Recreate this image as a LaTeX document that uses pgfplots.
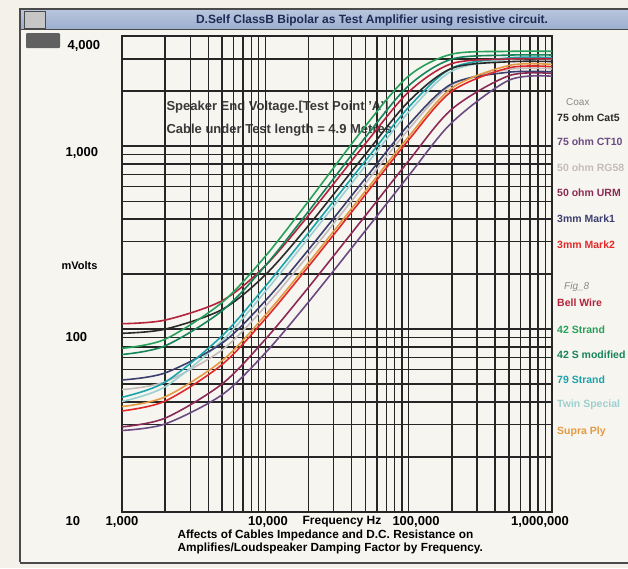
\documentclass[border=0pt]{standalone}
\usepackage{pgfplots}
\pgfplotsset{compat=1.18}
\usepackage{fontspec}
\setmainfont{Liberation Sans}
\setsansfont{Liberation Sans}

\definecolor{paper}{HTML}{F3F1EA}
\definecolor{client}{HTML}{F7F5F0}
\definecolor{tbtop}{HTML}{B9C6DD}
\definecolor{tbbot}{HTML}{9DAECF}
\definecolor{frame}{HTML}{4A4A4A}
\definecolor{gridc}{HTML}{262626}
\definecolor{titlec}{HTML}{1D2B55}
\definecolor{notec}{HTML}{3A3A3A}
% series colours
\definecolor{cCat}{HTML}{2A2A2A}
\definecolor{cCT}{HTML}{6A4A80}
\definecolor{cRG}{HTML}{C4BCBC}
\definecolor{cURM}{HTML}{8C2A55}
\definecolor{cMk1}{HTML}{3C3F6E}
\definecolor{cMk2}{HTML}{E02A2A}
\definecolor{cBell}{HTML}{B3243C}
\definecolor{cS42}{HTML}{27A05A}
\definecolor{cS42m}{HTML}{17855A}
\definecolor{cS79}{HTML}{1AA3AA}
\definecolor{cTwin}{HTML}{9CCFCF}
\definecolor{cSupra}{HTML}{E39A42}
\definecolor{legt}{HTML}{8A8A8A}

\begin{document}
\begin{tikzpicture}
\useasboundingbox (0pt,0pt) rectangle (628pt,-568pt);
\clip (0pt,0pt) rectangle (628pt,-568pt);
\begin{scope}[x=1pt,y=-1pt]
  % window chrome
  \fill[paper] (0,0) rectangle (628,568);
  \fill[client] (20,9) rectangle (640,562);
  \shade[top color=tbtop, bottom color=tbbot] (20,9) rectangle (640,29);
  \draw[frame, line width=1.4pt] (20,562) -- (20,9) -- (640,9);
  \draw[frame, line width=0.8pt] (20,29) -- (640,29);
  \draw[frame, line width=2pt] (20,563) -- (640,563);
  \fill[gray!45] (24,11) rectangle (45,28);
  \draw[frame, line width=0.6pt] (24,11) rectangle (45,28);
  \fill[gray!75!black, rounded corners=1pt] (26,33) rectangle (60,48);
  \node[text=titlec, font=\bfseries\fontsize{12}{12}\selectfont] at (372,20)
    {D.Self ClassB Bipolar as Test Amplifier using resistive circuit.};
  % note behind the grid
  \node[anchor=west, text=notec, font=\bfseries\fontsize{13}{13}\selectfont] at (163,107)
    {Speaker End Voltage.[Test Point 'A']};
  \node[anchor=west, text=notec, font=\bfseries\fontsize{13}{13}\selectfont] at (163,130)
    {Cable under Test length = 4.9 Metres};
\end{scope}

\begin{axis}[
  at={(122pt,-512pt)}, anchor=south west,
  scale only axis, width=430pt, height=476pt,
  xmode=log, ymode=log,
  xmin=1000, xmax=1000000, ymin=10, ymax=4000,
  grid=both,
  major grid style={draw=gridc, line width=1.4pt},
  minor grid style={draw=gridc, line width=1.4pt},
  axis line style={draw=gridc, line width=1.6pt},
  major tick length=0pt, minor tick length=0pt,
  xticklabels={}, yticklabels={},
  every axis plot/.append style={line width=1.6pt, smooth},
]
% Hz vs mV
\addplot[cRG] coordinates {(1000,46.7)(2000,51.5)(5000,77)(10000,132.9)(20000,254)(50000,626)(100000,1236)(200000,2161)(500000,2629)(1000000,2648)};
\addplot[cTwin] coordinates {(1000,40.2)(2000,48.4)(5000,86.4)(10000,160.6)(20000,314.7)(50000,781)(100000,1535)(200000,2572)(500000,2984)(1000000,2998)};
\addplot[cCT] coordinates {(1000,27.9)(2000,30.3)(5000,43.8)(10000,74.1)(20000,140.5)(50000,345.9)(100000,689)(200000,1345)(500000,2292)(1000000,2411)};
\addplot[cURM] coordinates {(1000,29.2)(2000,32.6)(5000,50.2)(10000,87.9)(20000,169)(50000,417.6)(100000,831)(200000,1593)(500000,2425)(1000000,2495)};
\addplot[cMk1] coordinates {(1000,52.7)(2000,57.6)(5000,83.9)(10000,142.8)(20000,271.5)(50000,667.8)(100000,1310)(200000,2191)(500000,2537)(1000000,2548)};
\addplot[cMk2] coordinates {(1000,35.7)(2000,40.4)(5000,64.1)(10000,113.9)(20000,220)(50000,544.3)(100000,1081)(200000,1996)(500000,2679)(1000000,2717)};
\addplot[cSupra] coordinates {(1000,37.7)(2000,42.6)(5000,67.3)(10000,119.2)(20000,230.1)(50000,569.1)(100000,1129)(200000,2077)(500000,2760)(1000000,2797)};
\addplot[cS79] coordinates {(1000,42.4)(2000,51.3)(5000,92)(10000,171.2)(20000,335.6)(50000,833)(100000,1632)(200000,2671)(500000,3036)(1000000,3048)};
\addplot[cCat] coordinates {(1000,94.8)(2000,99.9)(5000,128)(10000,198)(20000,368)(50000,905)(100000,1756)(200000,2664)(500000,2893)(1000000,2900)};
\addplot[cBell] coordinates {(1000,107)(2000,112)(5000,143)(10000,222)(20000,418)(50000,1035)(100000,1979)(200000,2827)(500000,2995)(1000000,3000)};
\addplot[cS42m] coordinates {(1000,72.6)(2000,81)(5000,126)(10000,222)(20000,440)(50000,1120)(100000,2141)(200000,2991)(500000,3145)(1000000,3150)};
\addplot[cS42] coordinates {(1000,78.5)(2000,88)(5000,140)(10000,250)(20000,500)(50000,1290)(100000,2418)(200000,3184)(500000,3297)(1000000,3300)};
\end{axis}

\begin{scope}[x=1pt,y=-1pt]
  \tikzset{tl/.style={text=black, font=\bfseries\fontsize{13}{13}\selectfont}}
  % y labels
  \node[tl, anchor=west] at (64,46) {4,000};
  \node[tl, anchor=west] at (62,153) {1,000};
  \node[anchor=west, font=\bfseries\fontsize{11}{11}\selectfont] at (58,266) {mVolts};
  \node[tl, anchor=west] at (62,337) {100};
  \node[tl, anchor=west] at (62,521) {10};
  % x labels
  \node[tl] at (122,522) {1,000};
  \node[tl] at (268,522) {10,000};
  \node[font=\bfseries\fontsize{12}{12}\selectfont] at (342,522) {Frequency Hz};
  \node[tl] at (416,522) {100,000};
  \node[tl] at (540,522) {1,000,000};
  \node[anchor=west, font=\bfseries\fontsize{11.8}{11.8}\selectfont] at (174,535)
    {Affects of Cables Impedance and D.C. Resistance on};
  \node[anchor=west, font=\bfseries\fontsize{11.8}{11.8}\selectfont] at (174,548)
    {Amplifies/Loudspeaker Damping Factor by Frequency.};
  % series names at the right
  \tikzset{lg/.style={anchor=west, inner sep=1pt, font=\bfseries\fontsize{10.5}{10.5}\selectfont}}
  \node[lg, text=legt, font=\fontsize{10}{10}\selectfont] at (565,102) {Coax};
  \node[lg, text=cCat] at (556,118) {75 ohm Cat5};
  \node[lg, text=cCT] at (556,142) {75 ohm CT10};
  \node[lg, text=cRG] at (556,168) {50 ohm RG58};
  \node[lg, text=cURM] at (556,193) {50 ohm URM};
  \node[lg, text=cMk1] at (556,219) {3mm Mark1};
  \node[lg, text=cMk2] at (556,245) {3mm Mark2};
  \node[lg, text=legt, font=\itshape\fontsize{10}{10}\selectfont] at (563,287) {Fig\_8};
  \node[lg, text=cBell] at (556,303) {Bell Wire};
  \node[lg, text=cS42] at (556,330) {42 Strand};
  \node[lg, text=cS42m] at (556,355) {42 S modified};
  \node[lg, text=cS79] at (556,380) {79 Strand};
  \node[lg, text=cTwin] at (556,405) {Twin Special};
  \node[lg, text=cSupra] at (556,432) {Supra Ply};
\end{scope}
\end{tikzpicture}
\end{document}
